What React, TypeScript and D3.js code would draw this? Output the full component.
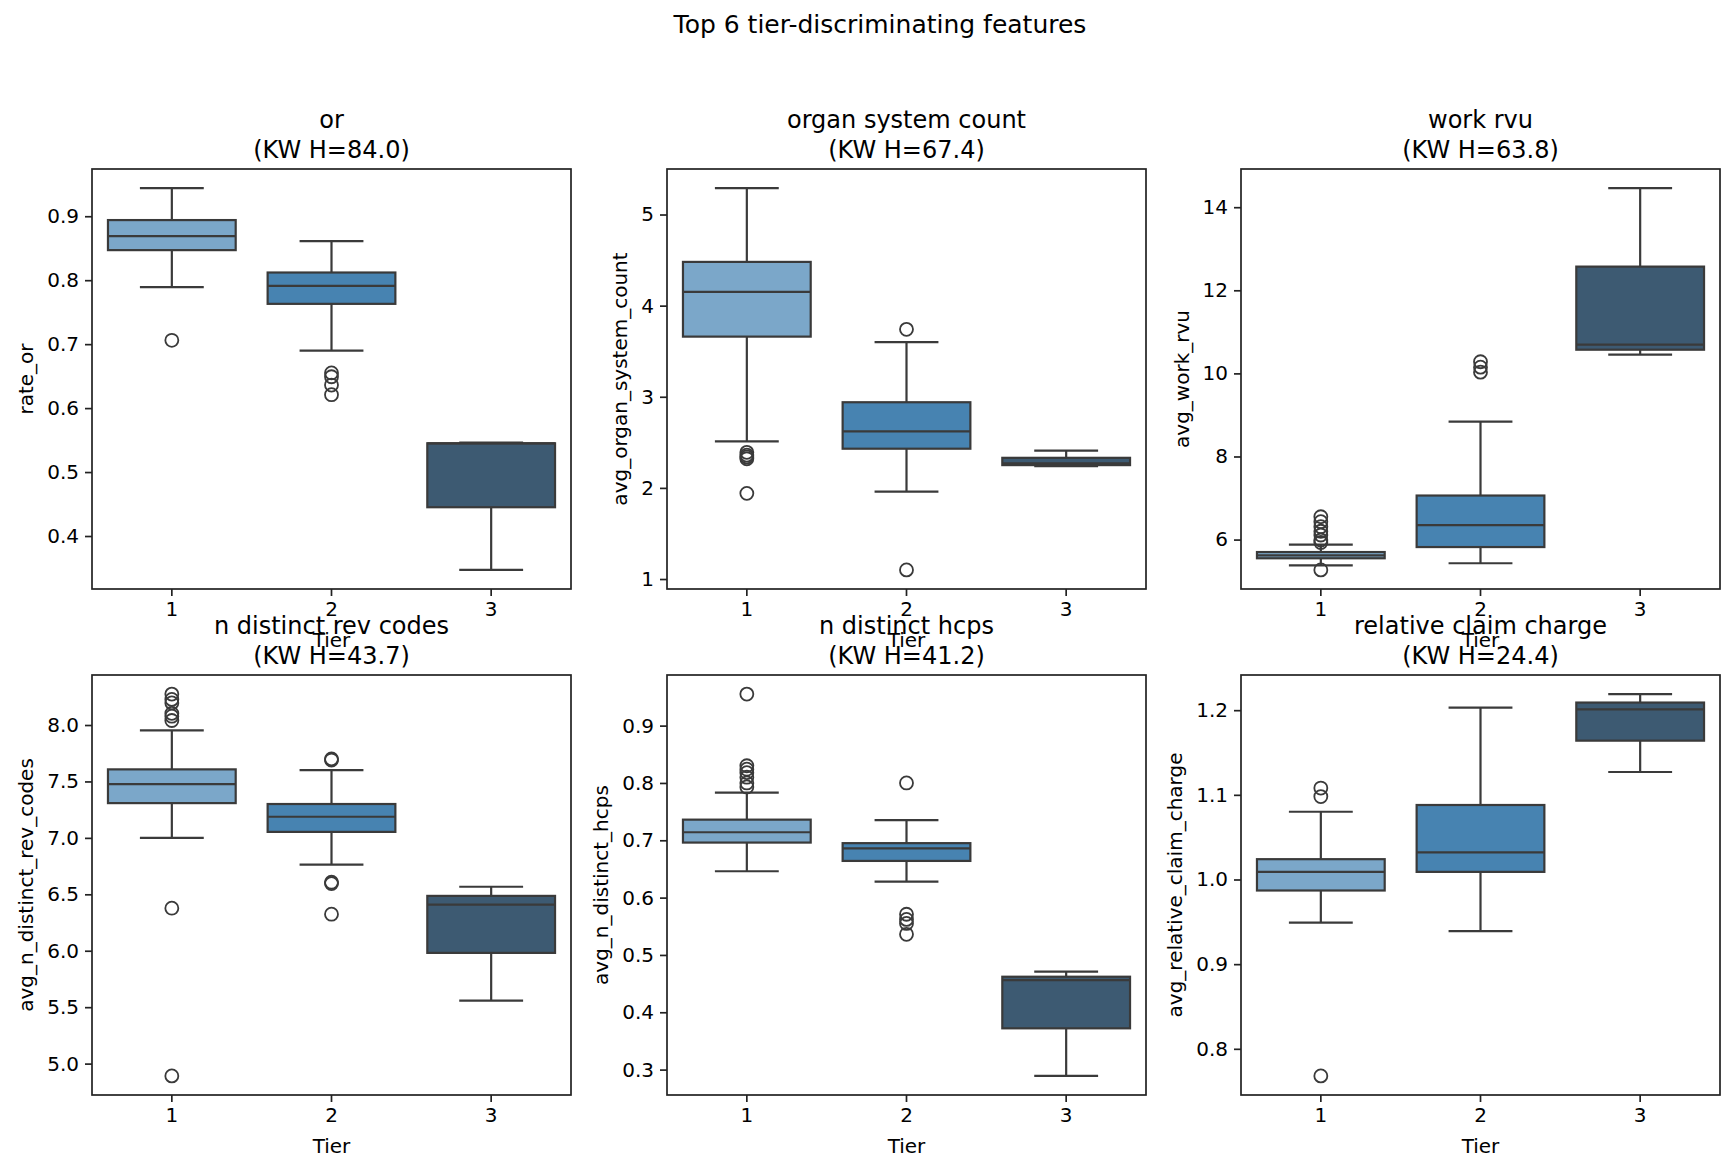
import React, { useEffect, useRef } from 'react'
import * as d3 from 'd3'

// figure data
const suptitle = 'Top 6 tier-discriminating features'
const tiers = ['1', '2', '3']
const tierColors = ['#7ba7c9', '#4783b1', '#3d5a72']

const featureNames = ['or', 'organ system count', 'work rvu', 'n distinct rev codes', 'n distinct hcps', 'relative claim charge']
const yLabels = ['rate_or', 'avg_organ_system_count', 'avg_work_rvu', 'avg_n_distinct_rev_codes', 'avg_n_distinct_hcps', 'avg_relative_claim_charge']
const kwH = [84.0, 67.4, 63.8, 43.7, 41.2, 24.4]

// box stats per tier: lower whisker, q1, median, q3, upper whisker, fliers
const orBoxes = [
  { lo: 0.789, q1: 0.847, med: 0.869, q3: 0.894, hi: 0.944, out: [0.706] },
  { lo: 0.690, q1: 0.763, med: 0.791, q3: 0.812, hi: 0.861, out: [0.655, 0.649, 0.636, 0.621] },
  { lo: 0.347, q1: 0.445, med: 0.545, q3: 0.545, hi: 0.546, out: [] },
]
const organBoxes = [
  { lo: 2.51, q1: 3.66, med: 4.15, q3: 4.48, hi: 5.29, out: [2.39, 2.36, 2.34, 2.32, 1.94] },
  { lo: 1.96, q1: 2.43, med: 2.62, q3: 2.94, hi: 3.60, out: [3.74, 1.10] },
  { lo: 2.24, q1: 2.25, med: 2.27, q3: 2.33, hi: 2.41, out: [] },
]
const rvuBoxes = [
  { lo: 5.38, q1: 5.55, med: 5.62, q3: 5.70, hi: 5.88, out: [6.55, 6.43, 6.31, 6.20, 6.11, 5.99, 5.93, 5.27] },
  { lo: 5.43, q1: 5.82, med: 6.35, q3: 7.06, hi: 8.84, out: [10.28, 10.15, 10.03] },
  { lo: 10.45, q1: 10.57, med: 10.69, q3: 12.57, hi: 14.46, out: [] },
]
const revBoxes = [
  { lo: 7.0, q1: 7.308, med: 7.477, q3: 7.607, hi: 7.953, out: [8.274, 8.227, 8.196, 8.103, 8.078, 8.04, 6.377, 4.891] },
  { lo: 6.763, q1: 7.053, med: 7.187, q3: 7.30, hi: 7.60, out: [7.70, 7.69, 6.607, 6.595, 6.324] },
  { lo: 5.558, q1: 5.981, med: 6.408, q3: 6.486, hi: 6.567, out: [] },
]
const hcpsBoxes = [
  { lo: 0.646, q1: 0.696, med: 0.714, q3: 0.736, hi: 0.783, out: [0.955, 0.830, 0.824, 0.818, 0.810, 0.800, 0.793] },
  { lo: 0.628, q1: 0.664, med: 0.686, q3: 0.695, hi: 0.735, out: [0.800, 0.571, 0.562, 0.555, 0.536] },
  { lo: 0.289, q1: 0.372, med: 0.456, q3: 0.462, hi: 0.471, out: [] },
]
const chargeBoxes = [
  { lo: 0.949, q1: 0.987, med: 1.009, q3: 1.024, hi: 1.080, out: [1.108, 1.098, 0.768] },
  { lo: 0.939, q1: 1.009, med: 1.032, q3: 1.088, hi: 1.203, out: [] },
  { lo: 1.127, q1: 1.164, med: 1.201, q3: 1.209, hi: 1.219, out: [] },
]
const allBoxes = [orBoxes, organBoxes, rvuBoxes, revBoxes, hcpsBoxes, chargeBoxes]

const yTicks = [
  [0.4, 0.5, 0.6, 0.7, 0.8, 0.9],
  [1, 2, 3, 4, 5],
  [6, 8, 10, 12, 14],
  [5.0, 5.5, 6.0, 6.5, 7.0, 7.5, 8.0],
  [0.3, 0.4, 0.5, 0.6, 0.7, 0.8, 0.9],
  [0.8, 0.9, 1.0, 1.1, 1.2],
]
const yFormats = ['.1f', 'd', 'd', '.1f', '.1f', '.1f']

const W = 1734
const H = 1172
const colLeft = [92, 667, 1241]
const rowTop = [169, 675]
const plotW = 479
const plotH = 420
const FONT = 'DejaVu Sans, sans-serif'
const edge = '#3a3a3a'

const App = () => {
  const ref = useRef<SVGSVGElement>(null)

  useEffect(() => {
    const svg = d3.select(ref.current)
    svg.selectAll('*').remove()
    svg.append('rect').attr('width', W).attr('height', H).attr('fill', '#fff')

    svg.append('text').attr('x', 880).attr('y', 33).attr('text-anchor', 'middle')
      .attr('font-size', 25).attr('font-family', FONT).text(suptitle)

    allBoxes.forEach((boxes, i) => {
      const left = colLeft[i % 3]
      const top = rowTop[Math.floor(i / 3)]
      const g = svg.append('g').attr('transform', `translate(${left},${top})`)

      const vals = boxes.flatMap((b) => [b.lo, b.hi, ...b.out])
      const lo = d3.min(vals) as number
      const hi = d3.max(vals) as number
      const pad = (hi - lo) * 0.05
      const y = d3.scaleLinear().domain([lo - pad, hi + pad]).range([plotH, 0])
      const x = d3.scaleBand().domain(tiers).range([0, plotW]).paddingInner(0).paddingOuter(0)
      const bw = x.bandwidth() * 0.8

      boxes.forEach((b, k) => {
        const cx = (x(tiers[k]) as number) + x.bandwidth() / 2
        const bg = g.append('g')
        // whiskers
        bg.append('line').attr('x1', cx).attr('x2', cx).attr('y1', y(b.q1)).attr('y2', y(b.lo))
          .attr('stroke', edge).attr('stroke-width', 2.2)
        bg.append('line').attr('x1', cx).attr('x2', cx).attr('y1', y(b.q3)).attr('y2', y(b.hi))
          .attr('stroke', edge).attr('stroke-width', 2.2)
        ;[b.lo, b.hi].forEach((v) => {
          bg.append('line').attr('x1', cx - bw / 4).attr('x2', cx + bw / 4).attr('y1', y(v)).attr('y2', y(v))
            .attr('stroke', edge).attr('stroke-width', 2.2)
        })
        bg.append('rect').attr('x', cx - bw / 2).attr('width', bw)
          .attr('y', y(b.q3)).attr('height', Math.max(0, y(b.q1) - y(b.q3)))
          .attr('fill', tierColors[k]).attr('stroke', edge).attr('stroke-width', 2.2)
        bg.append('line').attr('x1', cx - bw / 2).attr('x2', cx + bw / 2).attr('y1', y(b.med)).attr('y2', y(b.med))
          .attr('stroke', edge).attr('stroke-width', 2.2)
        bg.selectAll('circle.out').data(b.out).enter().append('circle')
          .attr('cx', cx).attr('cy', (d) => y(d)).attr('r', 6.5)
          .attr('fill', 'none').attr('stroke', edge).attr('stroke-width', 1.8)
      })

      // frame
      g.append('rect').attr('width', plotW).attr('height', plotH)
        .attr('fill', 'none').attr('stroke', '#222').attr('stroke-width', 1.7)

      // x axis
      const xa = g.append('g').attr('transform', `translate(0,${plotH})`)
        .call(d3.axisBottom(x).tickSizeOuter(0).tickSize(7).tickPadding(6))
      xa.select('.domain').remove()
      xa.selectAll('line').attr('stroke', '#222').attr('stroke-width', 1.7)
      xa.selectAll('text').attr('font-size', 20).attr('font-family', FONT).attr('fill', '#000')

      // y axis
      const ya = g.append('g')
        .call(d3.axisLeft(y).tickValues(yTicks[i]).tickFormat(d3.format(yFormats[i])).tickSize(7).tickPadding(6).tickSizeOuter(0))
      ya.select('.domain').remove()
      ya.selectAll('line').attr('stroke', '#222').attr('stroke-width', 1.7)
      ya.selectAll('text').attr('font-size', 20).attr('font-family', FONT).attr('fill', '#000')

      let maxW = 0
      ya.selectAll('text').each(function () {
        const w = (this as SVGTextElement).getBBox().width
        if (w > maxW) maxW = w
      })

      g.append('text').attr('transform', `translate(${-13 - maxW - 14},${plotH / 2}) rotate(-90)`)
        .attr('text-anchor', 'middle').attr('font-size', 20).attr('font-family', FONT).text(yLabels[i])

      g.append('text').attr('x', plotW / 2).attr('y', plotH + 58).attr('text-anchor', 'middle')
        .attr('font-size', 20).attr('font-family', FONT).text('Tier')

      g.append('text').attr('x', plotW / 2).attr('y', -41).attr('text-anchor', 'middle')
        .attr('font-size', 24).attr('font-family', FONT).text(featureNames[i])
      g.append('text').attr('x', plotW / 2).attr('y', -11).attr('text-anchor', 'middle')
        .attr('font-size', 24).attr('font-family', FONT).text(`(KW H=${kwH[i].toFixed(1)})`)
    })
  })

  return <svg ref={ref} width={W} height={H} style={{ position: 'absolute', left: 0, top: 0 }} />
}

export default App
